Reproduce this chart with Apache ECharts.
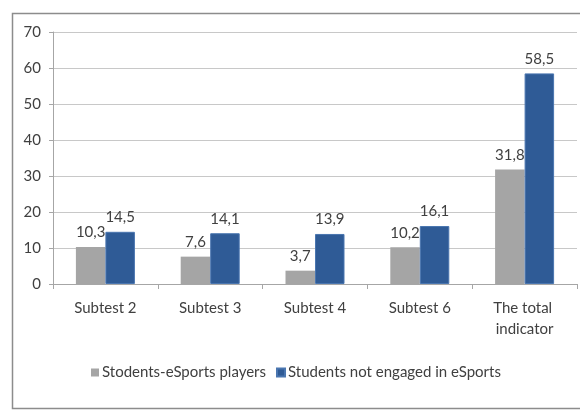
<!DOCTYPE html>
<html>
<head>
<meta charset="utf-8">
<script src="https://cdn.jsdelivr.net/npm/echarts@6/dist/echarts.min.js"></script>
<style>html,body{margin:0;padding:0;background:#fff}#c{width:580px;height:410px}</style>
</head>
<body>
<div id="c"></div>
<script>
var categories = ["Subtest 2", "Subtest 3", "Subtest 4", "Subtest 6", "The total indicator"];
var seriesNames = ["Stodents-eSports players", "Students not engaged in eSports"];
var players = [10.3, 7.6, 3.7, 10.2, 31.8];
var notEngaged = [14.5, 14.1, 13.9, 16.1, 58.5];
var yTicks = [0, 10, 20, 30, 40, 50, 60, 70];

var font = "Lato, 'Open Sans', sans-serif";
var txt = "#404040";
function fmt(v){ return String(v).replace('.', ','); }

var chart = echarts.init(document.getElementById('c'));
chart.setOption({
  animation: false,
  graphic: [{
    type: 'rect',
    shape: { x: 12.5, y: 13.5, width: 600, height: 395 },
    style: { fill: 'none', stroke: '#8c8c8c', lineWidth: 1.5 }
  }],
  grid: { left: 53, right: 3, top: 32, bottom: 126 },
  legend: {
    left: 86, top: 360,
    itemWidth: 8, itemHeight: 8, itemGap: 10,
    icon: 'rect',
    textStyle: { fontFamily: font, fontSize: 15, color: txt, padding: [0, 0, 0, -2] },
    data: seriesNames
  },
  xAxis: {
    type: 'category',
    data: categories,
    axisLine: { lineStyle: { color: '#a6a6a6' } },
    axisTick: { show: true, length: 5, lineStyle: { color: '#a6a6a6' } },
    axisLabel: {
      fontFamily: font, fontSize: 15, color: txt, margin: 14,
      width: 90, overflow: 'break', lineHeight: 21, interval: 0
    }
  },
  yAxis: {
    type: 'value',
    min: yTicks[0], max: yTicks[yTicks.length - 1], interval: 10,
    axisLine: { show: true, lineStyle: { color: '#a6a6a6' } },
    axisTick: { show: true, length: 4, lineStyle: { color: '#a6a6a6' } },
    splitLine: { lineStyle: { color: '#c8c8c8' } },
    axisLabel: { fontFamily: font, fontSize: 15, color: txt, margin: 12 }
  },
  series: [{
    name: seriesNames[0], type: 'bar', data: players,
    barWidth: 29.5, barGap: '0%',
    itemStyle: { color: '#a5a5a5' },
    label: { show: true, position: 'top', distance: 7, fontFamily: font, fontSize: 15, color: txt,
      formatter: function(p){ return fmt(p.value); } }
  }, {
    name: seriesNames[1], type: 'bar', data: notEngaged,
    barWidth: 29.5, barGap: '0%',
    itemStyle: { color: '#2f5b96', borderColor: '#4a76b0', borderWidth: 1 },
    label: { show: true, position: 'top', distance: 7, fontFamily: font, fontSize: 15, color: txt,
      formatter: function(p){ return fmt(p.value); } }
  }]
});
</script>
</body>
</html>
